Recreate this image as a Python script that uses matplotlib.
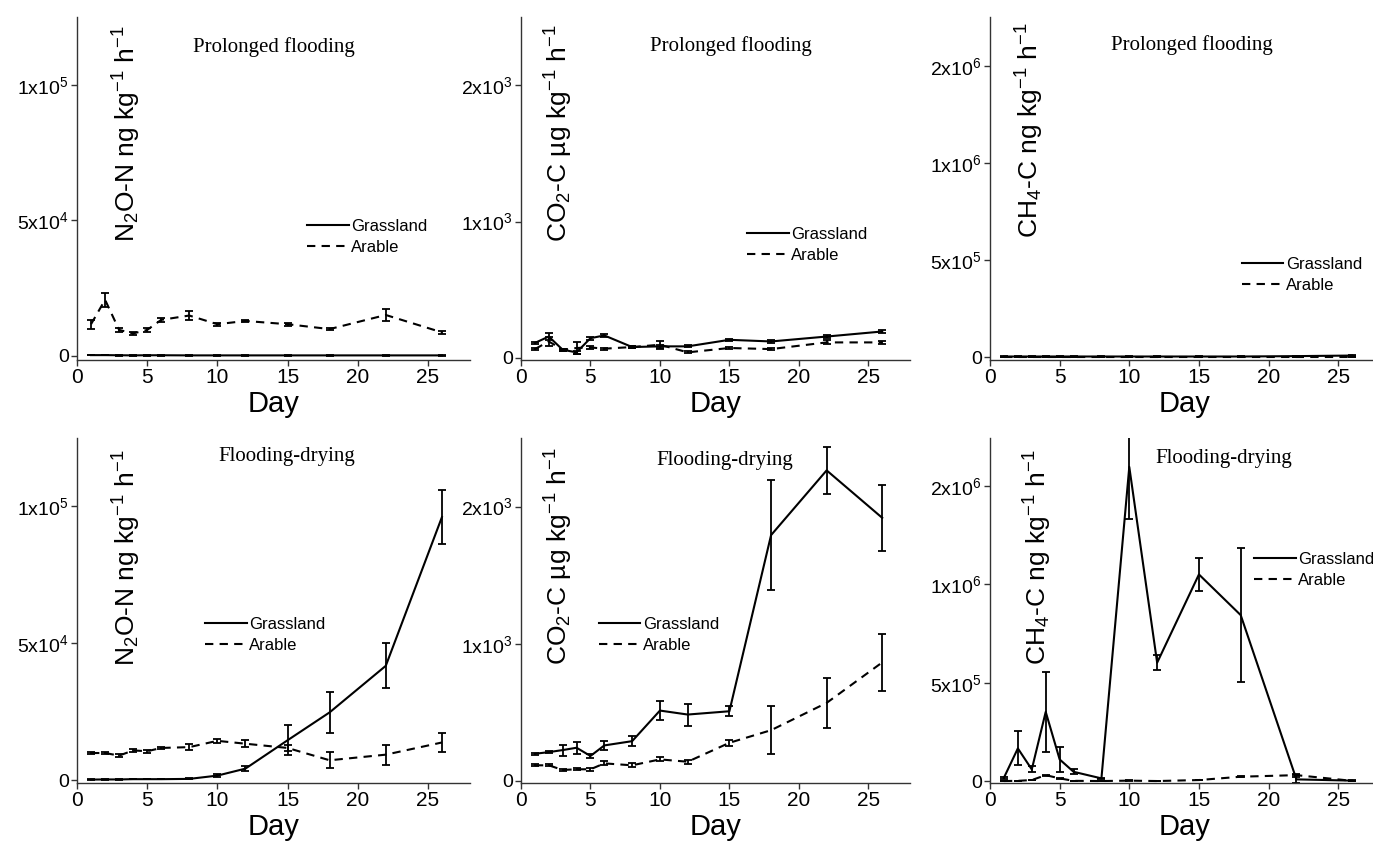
import matplotlib
matplotlib.use('Agg')
import matplotlib.pyplot as plt
from matplotlib.lines import Line2D

plt.rcParams['font.family'] = ['Liberation Sans', 'DejaVu Sans']
plt.rcParams['mathtext.fontset'] = 'custom'
plt.rcParams['mathtext.rm'] = 'Liberation Sans'
plt.rcParams['mathtext.it'] = 'Liberation Sans:italic'
plt.rcParams['mathtext.bf'] = 'Liberation Sans:bold'

# sampling days
days = [1, 2, 3, 4, 5, 6, 8, 10, 12, 15, 18, 22, 26]

# N2O, prolonged flooding
n2o_pf_grass = [300, 300, 250, 200, 250, 250, 200, 200, 200, 200, 200, 200, 200]
n2o_pf_grass_err = [100, 100, 100, 100, 100, 100, 100, 100, 100, 100, 100, 100, 100]
n2o_pf_arable = [11700, 20700, 9600, 8300, 9600, 13300, 14900, 11700, 12900, 11700, 9900, 15100, 8700]
n2o_pf_arable_err = [1600, 2500, 600, 700, 600, 700, 1500, 600, 500, 600, 500, 2200, 500]

# CO2, prolonged flooding
co2_pf_grass = [110, 157, 60, 41, 145, 165, 80, 85, 85, 133, 121, 157, 194]
co2_pf_grass_err = [10, 25, 8, 10, 10, 8, 8, 10, 8, 8, 8, 8, 8]
co2_pf_arable = [65, 121, 60, 73, 77, 68, 80, 97, 41, 73, 65, 114, 114]
co2_pf_arable_err = [8, 30, 8, 45, 10, 8, 8, 30, 8, 8, 8, 15, 10]

# CH4, prolonged flooding
ch4_pf_grass = [3000, 3000, 3000, 3000, 3000, 3000, 3000, 3000, 3000, 3000, 3000, 5000, 8000]
ch4_pf_grass_err = [1000, 1000, 1000, 1000, 1000, 1000, 1000, 1000, 1000, 1000, 1000, 2000, 3000]
ch4_pf_arable = [1000, 1000, 1000, 1000, 1000, 1000, 1000, 1000, 1000, 1000, 1000, 1000, 1000]
ch4_pf_arable_err = [500, 500, 500, 500, 500, 500, 500, 500, 500, 500, 500, 500, 500]

# N2O, flooding-drying
n2o_fd_grass = [250, 300, 300, 400, 400, 400, 500, 1700, 4250, 14600, 24800, 41800, 96100]
n2o_fd_grass_err = [100, 100, 100, 100, 100, 100, 200, 500, 1000, 5500, 7400, 8200, 9800]
n2o_fd_arable = [9950, 9950, 9000, 10900, 10600, 11800, 12100, 14400, 13350, 11800, 7300, 9350, 13800]
n2o_fd_arable_err = [500, 500, 500, 600, 600, 500, 1200, 700, 1300, 1200, 3000, 3600, 3300]

# CO2, flooding-drying
co2_fd_grass = [198, 210, 225, 242, 182, 259, 290, 513, 484, 508, 1792, 2264, 1918]
co2_fd_grass_err = [8, 8, 40, 45, 15, 35, 38, 70, 80, 35, 400, 170, 240]
co2_fd_arable = [114, 114, 80, 85, 85, 128, 114, 157, 140, 278, 370, 569, 864]
co2_fd_arable_err = [8, 8, 8, 8, 10, 15, 15, 15, 15, 24, 175, 185, 205]

# CH4, flooding-drying
ch4_fd_grass = [17000, 166000, 59000, 352000, 110000, 47000, 13500, 1598000, 602000, 1051000, 844000, 8500, 2000]
ch4_fd_grass_err = [5000, 86000, 15000, 205000, 62000, 12000, 3000, 263000, 38000, 82000, 340000, 20000, 2000]
ch4_fd_arable = [0, 1000, 5000, 30000, 13500, 1000, 0, 2000, 0, 5000, 22000, 30000, 1000]
ch4_fd_arable_err = [500, 500, 1000, 3000, 2000, 500, 500, 1000, 500, 1000, 3000, 8000, 500]

n2o_ticks = [0, 5e4, 1e5]
n2o_labels = ['0', r'5x10$^4$', r'1x10$^5$']
co2_ticks = [0, 1e3, 2e3]
co2_labels = ['0', r'1x10$^3$', r'2x10$^3$']
ch4_ticks = [0, 5e5, 1e6, 1.5e6]
ch4_labels = ['0', r'5x10$^5$', r'1x10$^6$', r'2x10$^6$']

n2o_ylabel = r'N$_2$O-N ng kg$^{-1}$ h$^{-1}$'
co2_ylabel = r'CO$_2$-C µg kg$^{-1}$ h$^{-1}$'
ch4_ylabel = r'CH$_4$-C ng kg$^{-1}$ h$^{-1}$'

W, H = 1373, 841
fig = plt.figure(figsize=(W / 100, H / 100), dpi=100)


def box(l, t, r, b):
    return [l / W, 1 - b / H, (r - l) / W, (b - t) / H]


cols = [(77, 470), (521, 910), (990, 1380)]
rows = [(17, 360), (438, 783)]

panels = [
    # row, col, grass, gerr, arable, aerr, ylim, ticks, labels, ylabel, ylabel pos,
    # title, title pos, legend pos
    (0, 0, n2o_pf_grass, n2o_pf_grass_err, n2o_pf_arable, n2o_pf_arable_err, (-1500, 125000),
     n2o_ticks, n2o_labels, n2o_ylabel, (0.127, 0.977), 'Prolonged flooding', (0.50, 0.913), (0.585, 0.379)),
    (0, 1, co2_pf_grass, co2_pf_grass_err, co2_pf_arable, co2_pf_arable_err, (-15, 2500),
     co2_ticks, co2_labels, co2_ylabel, (0.097, 0.977), 'Prolonged flooding', (0.54, 0.915), (0.581, 0.356)),
    (0, 2, ch4_pf_grass, ch4_pf_grass_err, ch4_pf_arable, ch4_pf_arable_err, (-15000, 1.755e6),
     ch4_ticks, ch4_labels, ch4_ylabel, (0.102, 0.985), 'Prolonged flooding', (0.517, 0.917), (0.645, 0.268)),
    (1, 0, n2o_fd_grass, n2o_fd_grass_err, n2o_fd_arable, n2o_fd_arable_err, (-1000, 125000),
     n2o_ticks, n2o_labels, n2o_ylabel, (0.127, 0.968), 'Flooding-drying', (0.534, 0.945), (0.326, 0.449)),
    (1, 1, co2_fd_grass, co2_fd_grass_err, co2_fd_arable, co2_fd_arable_err, (-15, 2500),
     co2_ticks, co2_labels, co2_ylabel, (0.097, 0.971), 'Flooding-drying', (0.524, 0.936), (0.20, 0.449)),
    (1, 2, ch4_fd_grass, ch4_fd_grass_err, ch4_fd_arable, ch4_fd_arable_err, (-10000, 1.745e6),
     ch4_ticks, ch4_labels, ch4_ylabel, (0.122, 0.965), 'Flooding-drying', (0.60, 0.94), (0.677, 0.638)),
]

for (r, c, g, ge, a, ae, ylim, ticks, labels, ylab, ypos, title, tpos, lpos) in panels:
    l, rr = cols[c]
    t, b = rows[r]
    ax = fig.add_axes(box(l, t, rr, b))
    ax.patch.set_alpha(0)
    ax.errorbar(days, g, yerr=ge, color='black', lw=1.5, elinewidth=1.3,
                capsize=3, capthick=1.3)
    ax.errorbar(days, a, yerr=ae, color='black', lw=1.5, elinewidth=1.3,
                capsize=3, capthick=1.3, dashes=(4, 3))
    ax.set_xlim(0, 28)
    ax.set_ylim(*ylim)
    ax.set_xticks([0, 5, 10, 15, 20, 25])
    ax.set_yticks(ticks)
    ax.set_yticklabels(labels)
    ax.spines['top'].set_visible(False)
    ax.spines['right'].set_visible(False)
    for s in ['left', 'bottom']:
        ax.spines[s].set_linewidth(1.0)
        ax.spines[s].set_color('#333333')
    ax.tick_params(axis='x', direction='out', length=4, width=1, labelsize=15, pad=2, color='#333333')
    ax.tick_params(axis='y', direction='out', length=4, width=1, labelsize=14, pad=2, color='#333333')
    ax.set_xlabel('Day', fontsize=21, labelpad=2)
    ax.text(ypos[0], ypos[1], ylab, rotation=90,
            transform=ax.transAxes, ha='center', va='top', fontsize=19)
    ax.text(tpos[0], tpos[1], title, transform=ax.transAxes, ha='center', va='center',
            fontsize=15, family='Liberation Serif')
    handles = [Line2D([], [], color='black', lw=1.5),
               Line2D([], [], color='black', lw=1.5, dashes=(4, 3))]
    hx, hy = lpos
    ax.legend(handles, ['Grassland', 'Arable'], loc='upper left',
              bbox_to_anchor=(hx, hy + 11 / 343), frameon=False,
              fontsize=12, handlelength=2.5, handletextpad=0.15, labelspacing=0.35,
              borderpad=0, borderaxespad=0)

fig.savefig('out.png', dpi=100, facecolor='white')
